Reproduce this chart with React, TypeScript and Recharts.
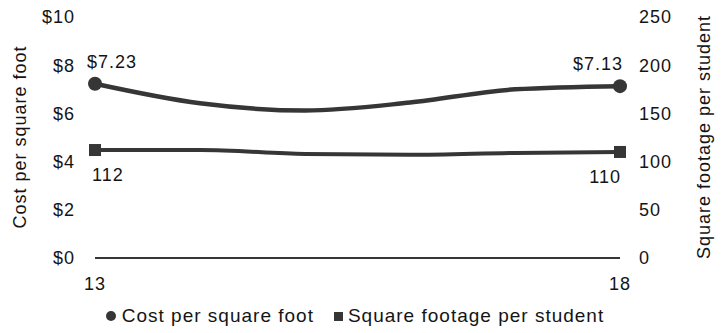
import { LineChart, Line, XAxis, YAxis, Legend } from 'recharts';

const years = [13, 14, 15, 16, 17, 18];
const costPerSqFt = [7.23, 6.42, 6.12, 6.45, 7.0, 7.13];
const sqFtPerStudent = [112, 112, 108, 107, 109, 110];
const costTicks = [0, 2, 4, 6, 8, 10];
const sqFtTicks = [0, 50, 100, 150, 200, 250];
const yearTicks = [13, 18];

const data = years.map((year, i) => ({
  year,
  cost: costPerSqFt[i],
  sqft: sqFtPerStudent[i],
}));

const FONT = '"Liberation Sans", Arial, sans-serif';
const INK = '#141414';
const LINE = '#363636';
const last = years.length - 1;

const tickStyle = { fill: INK, fontSize: 18, fontFamily: FONT, style: { letterSpacing: '1px' } };

const CostDot = (props: any) => {
  const { cx, cy, index } = props;
  if (index !== 0 && index !== last) return <g key={`cd-${index}`} />;
  return <circle key={`cd-${index}`} cx={cx} cy={cy} r={7} fill={LINE} />;
};

const SqftDot = (props: any) => {
  const { cx, cy, index } = props;
  if (index !== 0 && index !== last) return <g key={`sd-${index}`} />;
  return <rect key={`sd-${index}`} x={cx - 6} y={cy - 6} width={12} height={12} fill={LINE} />;
};

const CostLabel = (props: any) => {
  const { x, y, index, value } = props;
  if (index !== 0 && index !== last) return null;
  const first = index === 0;
  return (
    <text
      x={first ? x - 8 : x + 3}
      y={y - 16}
      textAnchor={first ? 'start' : 'end'}
      fill={INK}
      fontSize={18}
      fontFamily={FONT}
      style={{ letterSpacing: '1px' }}
    >
      ${value.toFixed(2)}
    </text>
  );
};

const SqftLabel = (props: any) => {
  const { x, y, index, value } = props;
  if (index !== 0 && index !== last) return null;
  const first = index === 0;
  return (
    <text
      x={first ? x - 3 : x + 1}
      y={y + 31}
      textAnchor={first ? 'start' : 'end'}
      fill={INK}
      fontSize={18}
      fontFamily={FONT}
      style={{ letterSpacing: '1px' }}
    >
      {value}
    </text>
  );
};

// rotated axis titles, centred on the plot height
const axisTitle = (text: string, cx: number) => () => (
  <text
    transform={`translate(${cx}, 137) rotate(-90)`}
    textAnchor="middle"
    dominantBaseline="central"
    fill={INK}
    fontSize={18}
    fontFamily={FONT}
    style={{ letterSpacing: '1px' }}
  >
    {text}
  </text>
);

const renderLegend = () => (
  <div
    style={{
      display: 'flex',
      justifyContent: 'center',
      alignItems: 'center',
      fontFamily: FONT,
      fontSize: 19,
      color: INK,
      letterSpacing: '1px',
      whiteSpace: 'nowrap',
    }}
  >
    <span style={{ width: 10, height: 10, borderRadius: '50%', background: LINE, marginRight: 6, display: 'inline-block' }} />
    Cost per square foot
    <span style={{ width: 9, height: 9, background: LINE, marginLeft: 20, marginRight: 5, display: 'inline-block' }} />
    Square footage per student
  </div>
);

export default function App() {
  return (
    <div style={{ position: 'absolute', left: 0, top: 0, width: 726, height: 333, background: '#fff' }}>
      <LineChart width={726} height={333} data={data} margin={{ top: 17, right: 0, bottom: 0, left: 0 }}>
        <XAxis
          dataKey="year"
          type="number"
          domain={[13, 18]}
          ticks={yearTicks}
          height={75}
          axisLine={{ stroke: LINE, strokeWidth: 2 }}
          tickLine={false}
          tickSize={6}
          tickMargin={13}
          tick={tickStyle}
        />
        <YAxis
          yAxisId="cost"
          orientation="left"
          width={95}
          domain={[0, 10]}
          ticks={costTicks}
          tickFormatter={(v: number) => `$${v}`}
          axisLine={false}
          tickLine={false}
          tickSize={6}
          tickMargin={14}
          tick={tickStyle}
          label={axisTitle('Cost per square foot', 20)}
        />
        <YAxis
          yAxisId="sqft"
          orientation="right"
          width={106}
          domain={[0, 250]}
          ticks={sqFtTicks}
          axisLine={false}
          tickLine={false}
          tickSize={6}
          tickMargin={13}
          tick={tickStyle}
          label={axisTitle('Square footage per student', 704)}
        />
        <Legend
          layout="horizontal"
          verticalAlign="middle"
          align="center"
          content={renderLegend}
          wrapperStyle={{ top: 305, left: -8, width: 726 }}
        />
        <Line
          yAxisId="cost"
          dataKey="cost"
          type="monotone"
          stroke={LINE}
          strokeWidth={4.5}
          dot={CostDot}
          activeDot={false}
          label={CostLabel}
          isAnimationActive={false}
        />
        <Line
          yAxisId="sqft"
          dataKey="sqft"
          type="monotone"
          stroke={LINE}
          strokeWidth={4}
          dot={SqftDot}
          activeDot={false}
          label={SqftLabel}
          isAnimationActive={false}
        />
      </LineChart>
    </div>
  );
}
